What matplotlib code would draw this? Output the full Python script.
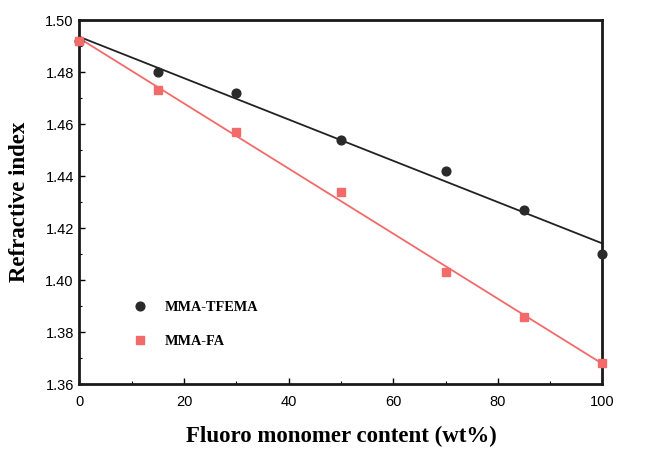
import numpy as np
import matplotlib
matplotlib.use("Agg")
import matplotlib.pyplot as plt
from matplotlib.ticker import MultipleLocator

# Fluoro monomer content (wt%)
content = [0, 15, 30, 50, 70, 85, 100]
# Refractive index of each copolymer series
n_tfema = [1.492, 1.480, 1.472, 1.454, 1.442, 1.427, 1.410]
n_fa = [1.492, 1.473, 1.457, 1.434, 1.403, 1.386, 1.368]

x_ticks = [0, 20, 40, 60, 80, 100]
y_ticks = [1.36, 1.38, 1.40, 1.42, 1.44, 1.46, 1.48, 1.50]

red = "#f26a6a"

fig = plt.figure(figsize=(6.45, 4.68), dpi=100)
ax = fig.add_axes([0.123, 0.179, 0.811, 0.778])

# least-squares lines through each series
x = np.array(content, dtype=float)
xs = np.array([0.0, 100.0])
for y, color in ((n_tfema, "#222222"), (n_fa, red)):
    k, b = np.polyfit(x, np.array(y), 1)
    ax.plot(xs, k * xs + b, color=color, lw=1.3, zorder=2, clip_on=False)

ax.plot(content, n_tfema, "o", color="#2a2a2a", ms=6.3, zorder=3,
        clip_on=False, label="MMA-TFEMA")
ax.plot(content, n_fa, "s", color=red, ms=5.6, zorder=3,
        clip_on=False, label="MMA-FA")

ax.set_xlim(0, 100)
ax.set_ylim(1.36, 1.50)
ax.set_xticks(x_ticks)
ax.set_yticks(y_ticks)
ax.set_xticklabels([str(t) for t in x_ticks])
ax.set_yticklabels([f"{t:.2f}" for t in y_ticks])
ax.xaxis.set_minor_locator(MultipleLocator(10))
ax.yaxis.set_minor_locator(MultipleLocator(0.01))
ax.tick_params(which="both", direction="in", top=False, right=False,
               labelsize=10.5)
ax.tick_params(axis="x", pad=8)
ax.tick_params(axis="y", pad=4)
ax.tick_params(which="major", length=4, width=1.0)
ax.tick_params(which="minor", length=2.5, width=0.8)
for lab in ax.get_xticklabels() + ax.get_yticklabels():
    lab.set_fontfamily("Liberation Sans")

for s in ax.spines.values():
    s.set_linewidth(2.0)
    s.set_color("#1a1a1a")

ax.set_xlabel("Fluoro monomer content (wt%)", fontsize=16.5, fontweight="bold",
              family="Liberation Serif", labelpad=12)
ax.set_ylabel("Refractive index", fontsize=16.5, fontweight="bold",
              family="Liberation Serif", labelpad=11)

ax.legend(loc="center left", bbox_to_anchor=(0.075, 0.165), frameon=False,
          handletextpad=1.15, labelspacing=1.45, handlelength=1.2,
          prop={"family": "Liberation Serif", "weight": "bold", "size": 10.3})

fig.savefig("out.png", dpi=100)
